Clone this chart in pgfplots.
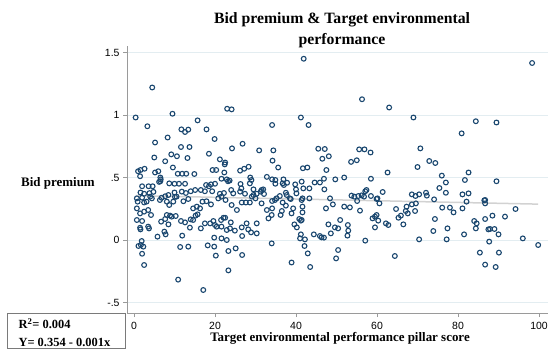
\documentclass[border=0pt]{standalone}
\usepackage{fontspec}
\setmainfont{Liberation Serif}
\setsansfont{Liberation Sans}
\usepackage{pgfplots}
\usepackage{pgfplotstable}
\pgfplotsset{compat=1.18}
\definecolor{stnavy}{HTML}{1A476F}
\definecolor{gridc}{HTML}{E3EDF1}
\definecolor{axc}{HTML}{9A9A9A}
\definecolor{fitc}{HTML}{D2D2D2}
\definecolor{boxc}{HTML}{7A7A7A}
\pgfplotstableread{
x y
0.4 0.98
4.5 1.22
3.3 0.91
9.5 1.01
5.2 0.78
8.3 0.82
11.7 0.885
12.6 0.864
13.4 0.883
11.6 0.744
13.7 0.744
15.7 0.957
17.9 0.885
19.9 0.808
18.5 0.69
5.0 0.66
9.2 0.685
10.6 0.67
13.2 0.656
23.0 1.05
24.1 1.045
24.2 0.733
26.8 0.77
21.2 0.645
22.5 0.62
22.4 0.605
30.9 0.717
34.4 0.717
34.2 0.635
35.6 0.58
34.1 0.92
41.2 0.98
41.9 1.45
43.1 0.92
45.5 0.73
47.1 0.728
46.5 0.65
48.1 0.67
41.7 0.574
42.8 0.58
47.5 0.56
9.6 0.58
10.8 0.53
11.9 0.53
12.9 0.53
14.9 0.528
5.2 0.54
6.0 0.55
6.5 0.50
1.0 0.55
1.6 0.56
2.6 0.57
1.5 0.51
6.5 0.47
6.6 0.485
19.4 0.56
20.3 0.56
21.6 0.49
23.2 0.47
23.6 0.475
26.2 0.555
27.2 0.57
28.3 0.586
28.7 0.50
29.0 0.48
32.8 0.505
34.1 0.485
34.9 0.48
34.9 0.45
8.7 0.453
2.0 0.43
3.6 0.43
4.6 0.43
7.7 0.63
98.3 1.416
56.3 1.126
63.0 1.06
69.0 0.98
84.4 0.95
89.5 0.94
80.9 0.853
55.6 0.725
56.9 0.725
58.4 0.70
53.6 0.625
55.0 0.638
70.7 0.733
70.0 0.584
72.9 0.632
74.4 0.616
76.0 0.515
77.0 0.46
75.4 0.416
82.6 0.54
81.7 0.48
89.5 0.47
62.6 0.54
58.5 0.49
51.9 0.50
49.7 0.485
44.6 0.46
45.9 0.46
46.9 0.49
22.3 0.54
6.2 0.465
10.0 0.45
11.1 0.45
12.6 0.45
15.1 0.40
17.8 0.44
19.0 0.445
20.0 0.45
22.9 0.485
26.3 0.448
26.5 0.413
28.6 0.453
29.5 0.405
31.3 0.387
31.5 0.40
1.6 0.38
2.5 0.37
3.8 0.375
4.8 0.385
7.7 0.35
8.5 0.36
10.0 0.38
10.1 0.345
11.8 0.387
12.8 0.376
14.0 0.39
16.5 0.40
17.5 0.39
18.5 0.43
19.3 0.39
21.2 0.37
22.2 0.376
24.0 0.40
24.5 0.373
26.2 0.387
27.4 0.37
29.5 0.36
30.3 0.37
0.7 0.333
0.9 0.307
2.0 0.339
2.5 0.30
3.1 0.307
4.0 0.347
4.4 0.333
6.4 0.32
6.8 0.338
8.1 0.307
8.7 0.28
9.7 0.307
10.5 0.347
12.2 0.31
13.4 0.328
14.6 0.253
15.5 0.267
16.3 0.253
16.9 0.307
17.9 0.31
19.0 0.285
20.8 0.333
21.6 0.347
22.6 0.32
24.1 0.28
25.4 0.24
26.6 0.30
27.6 0.30
28.6 0.30
29.1 0.347
30.0 0.333
31.5 0.293
0.7 0.253
1.5 0.213
2.5 0.227
3.5 0.24
4.2 0.20
0.7 0.16
2.0 0.152
1.5 0.098
1.6 0.085
3.5 0.107
3.7 0.093
6.7 0.147
7.7 0.168
8.1 0.20
8.9 0.195
9.3 0.187
10.3 0.192
8.5 0.125
7.5 0.067
7.8 0.045
5.8 0.027
11.6 0.152
12.6 0.141
14.0 0.165
14.6 0.16
15.2 0.195
15.7 0.205
13.8 0.099
16.5 0.093
17.5 0.133
18.8 0.133
19.6 0.152
20.0 0.12
20.4 0.107
21.5 0.16
22.1 0.178
22.5 0.178
21.6 0.107
22.9 0.08
23.7 0.093
23.9 0.141
24.9 0.075
26.6 0.101
28.2 0.085
28.9 0.061
30.3 0.053
30.3 0.133
27.8 0.133
1.9 -0.008
1.7 -0.04
1.1 -0.048
2.3 -0.053
2.0 -0.11
2.5 -0.20
11.9 0.035
11.4 -0.056
13.4 -0.053
10.9 -0.317
17.1 -0.40
18.2 -0.043
19.8 -0.053
19.8 0.019
21.6 0.013
22.9 0.0
20.2 -0.125
23.3 -0.088
23.3 -0.243
25.1 -0.067
26.7 -0.12
26.7 0.032
36.9 0.485
36.7 0.453
37.0 0.44
37.8 0.458
39.8 0.445
40.0 0.405
41.4 0.467
40.1 0.373
41.8 0.413
43.3 0.413
47.0 0.405
61.4 0.384
57.4 0.40
57.1 0.39
53.7 0.355
54.4 0.347
55.4 0.352
56.2 0.357
56.8 0.347
58.5 0.352
60.1 0.333
31.9 0.405
32.1 0.368
35.2 0.333
36.0 0.352
37.5 0.378
37.7 0.36
38.5 0.333
48.4 0.333
41.6 0.333
43.3 0.333
32.8 0.24
33.2 0.173
34.1 0.253
34.0 0.20
34.1 0.312
34.8 0.32
36.7 0.30
37.5 0.275
36.5 0.232
36.2 0.20
38.7 0.328
39.3 0.253
38.9 0.213
41.4 0.32
41.6 0.267
41.6 0.221
40.8 0.168
41.2 0.155
41.4 0.16
39.6 0.125
40.2 0.101
41.2 0.045
41.0 0.013
42.2 0.005
42.1 -0.048
42.9 -0.107
38.9 -0.18
43.5 -0.216
34.0 -0.027
44.4 0.045
45.9 0.032
46.3 0.021
46.9 0.019
48.6 0.053
48.0 0.125
49.6 0.101
50.4 0.093
50.9 0.16
52.8 0.12
52.9 0.075
52.7 0.035
50.4 -0.08
49.9 -0.147
57.1 -0.005
64.4 -0.128
47.4 0.253
49.1 0.285
51.9 0.267
53.3 0.261
55.8 0.235
55.1 0.312
59.9 0.328
60.6 0.293
58.9 0.173
59.5 0.187
59.9 0.20
60.3 0.155
59.5 0.101
62.2 0.133
62.8 0.12
64.7 0.248
65.3 0.178
77.0 0.378
68.6 0.365
69.5 0.352
70.4 0.365
72.1 0.378
72.3 0.355
74.1 0.325
81.1 0.365
82.6 0.373
86.5 0.317
65.9 0.195
67.3 0.267
67.1 0.232
67.6 0.213
68.6 0.285
69.6 0.293
69.4 0.232
66.5 0.125
70.4 0.005
74.3 0.168
73.9 0.072
76.1 0.259
78.0 0.259
78.9 0.221
77.4 0.093
77.2 0.005
82.1 0.307
81.1 0.253
81.5 0.045
84.0 0.152
84.6 0.133
84.4 0.093
86.7 0.32
86.7 0.293
86.7 0.168
87.5 0.085
87.9 0.088
89.0 0.088
88.5 0.195
90.0 0.045
87.7 -0.013
85.4 -0.101
90.1 -0.101
86.7 -0.197
89.3 -0.216
91.6 0.187
94.2 0.248
96.0 0.013
99.8 -0.04
}\scatterdata
\begin{document}
\begin{tikzpicture}[x=1bp,y=1bp]
\useasboundingbox (0,0) rectangle (555,349);
\begin{axis}[
  at={(127bp,36bp)}, anchor=south west,
  scale only axis, width=420.5bp, height=267bp,
  xmin=-1.73, xmax=102.1, ymin=-0.584, ymax=1.552,
  axis x line*=bottom, axis y line*=left,
  axis line style={axc, line width=0.9bp},
  xtick={0,20,40,60,80,100}, xticklabels={0,20,40,60,80,100},
  ytick={-0.5,0,0.5,1,1.5}, yticklabels={-.5,0,.5,1,1.5},
  tick align=outside, major tick length=4bp,
  tick style={axc, line width=0.9bp},
  ticklabel style={font=\sffamily\fontsize{10.5}{12}\selectfont, text=black},
  xticklabel style={yshift=-2bp},
  ymajorgrids, grid style={gridc, line width=0.8bp},
  clip=false,
]
\addplot[fitc, line width=1.5bp, no markers] coordinates {(0.4,0.355) (99.8,0.287)};
\addplot[only marks, mark=o, mark size=2.4bp, draw=stnavy, mark options={draw=stnavy, line width=1.1bp}] table[x=x,y=y] {\scatterdata};
\end{axis}
\node[font=\bfseries\fontsize{15.8}{21}\selectfont, align=center] at (342,319) {Bid premium \& Target environmental\\performance};
\node[font=\bfseries\fontsize{13}{15}\selectfont] at (58,166) {Bid premium};
\node[font=\bfseries\fontsize{13}{15}\selectfont] at (340,11) {Target environmental performance pillar score};
\draw[boxc, line width=0.8bp] (7.7,0.5) rectangle (125.7,36);
\node[anchor=west, font=\bfseries\fontsize{12.5}{14}\selectfont] at (15,25) {R\textsuperscript{2}= 0.004};
\node[anchor=west, font=\bfseries\fontsize{12.5}{14}\selectfont] at (15,7) {Y= 0.354 - 0.001x};
\end{tikzpicture}
\end{document}
